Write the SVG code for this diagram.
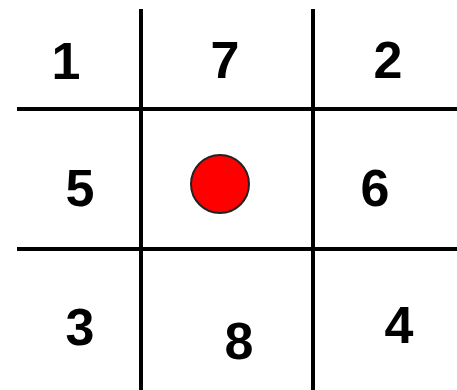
<svg xmlns="http://www.w3.org/2000/svg" width="457" height="390" viewBox="0 0 457 390">
<style>
.ln{stroke:#000;stroke-width:4;fill:none}
.d{font-family:"Liberation Sans",Arial,sans-serif;font-weight:bold;font-size:52px;fill:#000;text-anchor:middle}
</style>
<rect width="457" height="390" fill="#fff"/>
<g id="connectors">
<line class="ln" x1="17" y1="109" x2="457" y2="109"/>
<line class="ln" x1="17" y1="249" x2="457" y2="249"/>
<line class="ln" x1="141" y1="9" x2="141" y2="390"/>
<line class="ln" x1="313" y1="9" x2="313" y2="390"/>
</g>
<g id="n1"><text class="d" x="66" y="79">1</text></g>
<g id="n7"><text class="d" x="225" y="78">7</text></g>
<g id="n2"><text class="d" x="388" y="78">2</text></g>
<g id="n5"><text class="d" x="80" y="206">5</text></g>
<g id="center"><circle cx="220" cy="184" r="29" fill="#ff0000" stroke="#222" stroke-width="2"/></g>
<g id="n6"><text class="d" x="375" y="206">6</text></g>
<g id="n3"><text class="d" x="80" y="345">3</text></g>
<g id="n8"><text class="d" x="239" y="359">8</text></g>
<g id="n4"><text class="d" x="399" y="343">4</text></g>
</svg>
